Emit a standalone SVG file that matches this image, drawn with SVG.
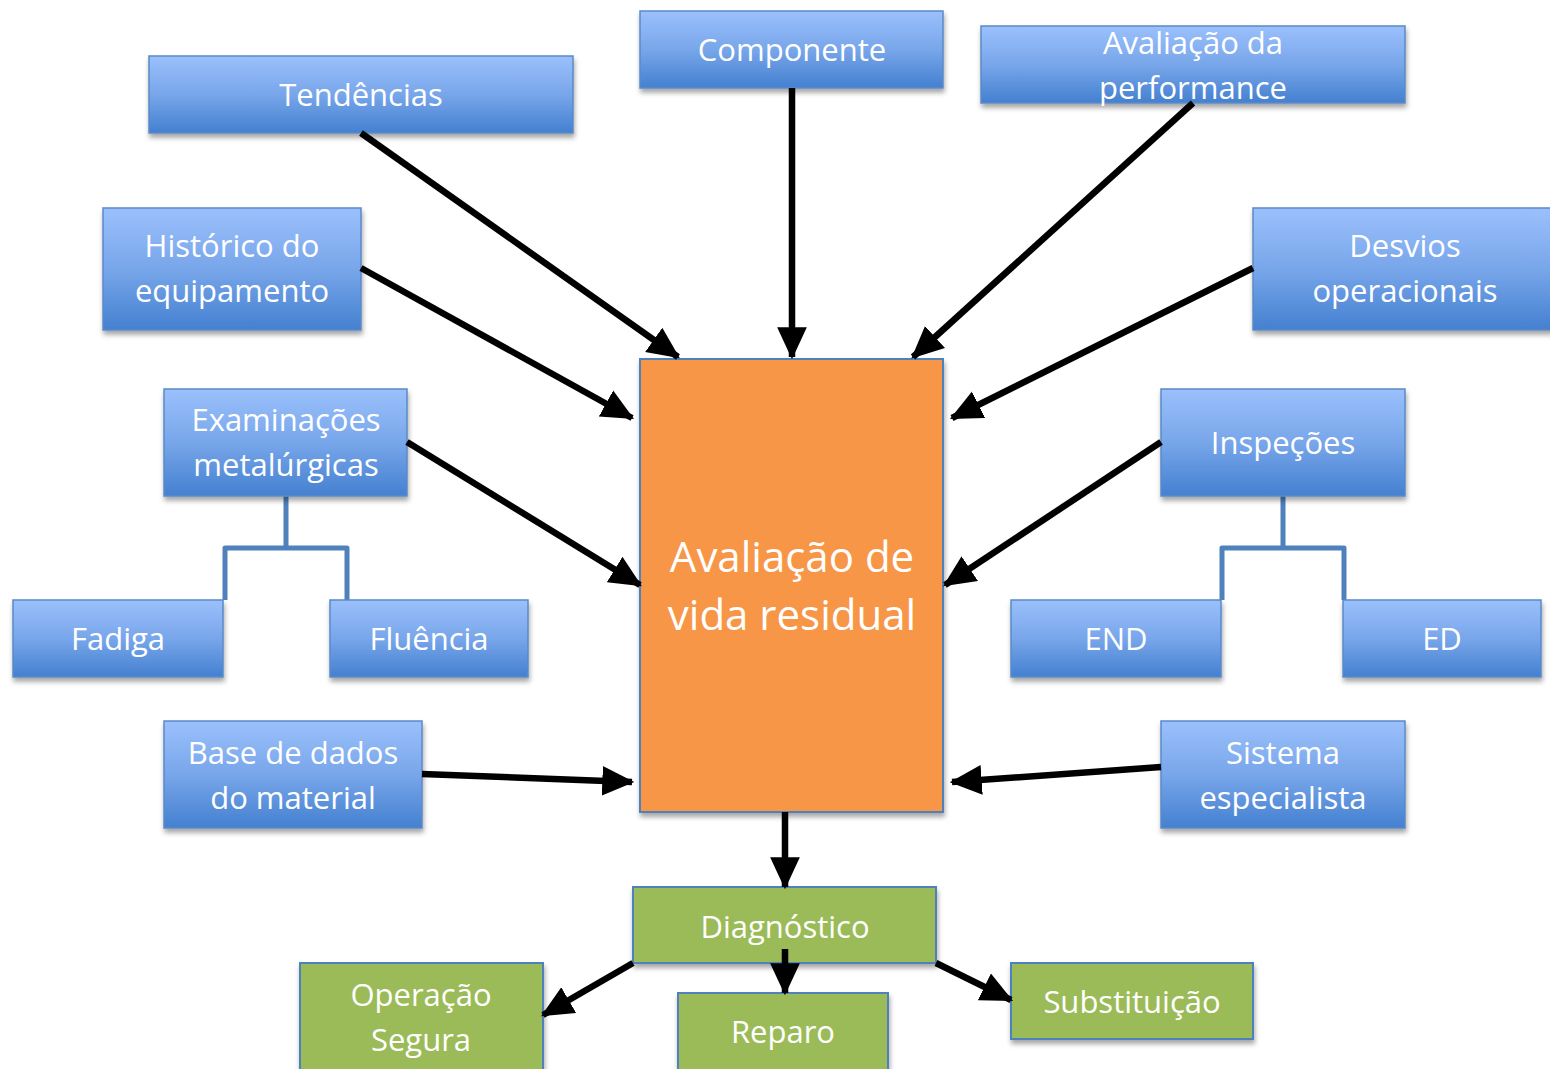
<svg xmlns="http://www.w3.org/2000/svg" width="1550" height="1069" viewBox="0 0 1550 1069">
<defs>
<linearGradient id="blueG" x1="0" y1="0" x2="0" y2="1">
<stop offset="0" stop-color="#9bc0fc"/>
<stop offset="0.5" stop-color="#78a6ea"/>
<stop offset="1" stop-color="#4480d0"/>
</linearGradient>
<filter id="sh" x="-10%" y="-10%" width="130%" height="140%">
<feDropShadow dx="1" dy="4" stdDeviation="2.5" flood-color="#000" flood-opacity="0.35"/>
</filter>
<marker id="ah" markerUnits="userSpaceOnUse" markerWidth="32" markerHeight="32" viewBox="0 0 28 26" refX="26" refY="13" orient="auto">
<path d="M0,0 L28,13 L0,26 Z" fill="#000"/>
</marker>
<style>
.b{fill:url(#blueG);stroke:#5a8ac8;stroke-width:1.5;filter:url(#sh)}
.o{fill:#f79646;stroke:#4f81bd;stroke-width:2;filter:url(#sh)}
.g{fill:#9bbb59;stroke:#4f81bd;stroke-width:2;filter:url(#sh)}
.t{font-family:"Open Sans","Liberation Sans",sans-serif;font-size:31px;fill:#fff;text-anchor:middle}
.tc{font-family:"Open Sans","Liberation Sans",sans-serif;font-size:42px;fill:#fff;text-anchor:middle}
.a{stroke:#000;stroke-width:6.5;fill:none;marker-end:url(#ah)}
.tr{stroke:#4f81bd;stroke-width:5;fill:none;stroke-linejoin:round}
</style>
</defs>
<rect width="1550" height="1069" fill="#fff"/>
<g id="tree">
<path class="tr" d="M286,496 V548 H225 V600 M286,548 H347 V600"/>
<path class="tr" d="M1283,496 V548 H1222 V600 M1283,548 H1344 V600"/>
</g>
<g id="n-tend"><rect class="b" x="149" y="56" width="424" height="77"/><text class="t" x="361" y="106">Tendências</text></g>
<g id="n-comp"><rect class="b" x="640" y="11" width="303" height="77"/><text class="t" x="792" y="61">Componente</text></g>
<g id="n-aval"><rect class="b" x="981" y="26" width="424" height="77"/><text class="t" x="1193" y="54">Avaliação da</text><text class="t" x="1193" y="99">performance</text></g>
<g id="n-hist"><rect class="b" x="103" y="208" width="258" height="122"/><text class="t" x="232" y="257">Histórico do</text><text class="t" x="232" y="302">equipamento</text></g>
<g id="n-desv"><rect class="b" x="1253" y="208" width="310" height="122"/><text class="t" x="1405" y="257">Desvios</text><text class="t" x="1405" y="302">operacionais</text></g>
<g id="n-exam"><rect class="b" x="164" y="389" width="243" height="107"/><text class="t" x="286" y="431">Examinações</text><text class="t" x="286" y="476">metalúrgicas</text></g>
<g id="n-insp"><rect class="b" x="1161" y="389" width="244" height="107"/><text class="t" x="1283" y="454">Inspeções</text></g>
<g id="n-fad"><rect class="b" x="13" y="600" width="210" height="77"/><text class="t" x="118" y="650">Fadiga</text></g>
<g id="n-flu"><rect class="b" x="330" y="600" width="198" height="77"/><text class="t" x="429" y="650">Fluência</text></g>
<g id="n-end"><rect class="b" x="1011" y="600" width="210" height="77"/><text class="t" x="1116" y="650">END</text></g>
<g id="n-ed"><rect class="b" x="1343" y="600" width="198" height="77"/><text class="t" x="1442" y="650">ED</text></g>
<g id="n-base"><rect class="b" x="164" y="721" width="258" height="107"/><text class="t" x="293" y="764">Base de dados</text><text class="t" x="293" y="809">do material</text></g>
<g id="n-sist"><rect class="b" x="1161" y="721" width="244" height="107"/><text class="t" x="1283" y="764">Sistema</text><text class="t" x="1283" y="809">especialista</text></g>
<g id="n-center"><rect class="o" x="640" y="359" width="303" height="453"/><text class="tc" x="792" y="572">Avaliação de</text><text class="tc" x="792" y="630">vida residual</text></g>
<g id="n-diag"><rect class="g" x="633" y="887" width="303" height="76"/><text class="t" x="785" y="938">Diagnóstico</text></g>
<g id="n-oper"><rect class="g" x="300" y="963" width="243" height="112"/><text class="t" x="421" y="1006">Operação</text><text class="t" x="421" y="1051">Segura</text></g>
<g id="n-rep"><rect class="g" x="678" y="993" width="210" height="82"/><text class="t" x="783" y="1043">Reparo</text></g>
<g id="n-subs"><rect class="g" x="1011" y="963" width="242" height="76"/><text class="t" x="1132" y="1013">Substituição</text></g>
<g id="connectors">
<line class="a" x1="361" y1="133" x2="678" y2="357"/>
<line class="a" x1="792" y1="88" x2="792" y2="357"/>
<line class="a" x1="1193" y1="103" x2="913" y2="357"/>
<line class="a" x1="361" y1="268" x2="632" y2="418"/>
<line class="a" x1="1253" y1="268" x2="952" y2="418"/>
<line class="a" x1="407" y1="442" x2="640" y2="585"/>
<line class="a" x1="1161" y1="442" x2="945" y2="585"/>
<line class="a" x1="422" y1="774" x2="632" y2="782"/>
<line class="a" x1="1161" y1="767" x2="952" y2="782"/>
<line class="a" x1="785" y1="812" x2="785" y2="887"/>
<line class="a" x1="633" y1="963" x2="543" y2="1015"/>
<line class="a" x1="785" y1="949" x2="785" y2="993"/>
<line class="a" x1="936" y1="963" x2="1011" y2="1000"/>
</g>
</svg>
